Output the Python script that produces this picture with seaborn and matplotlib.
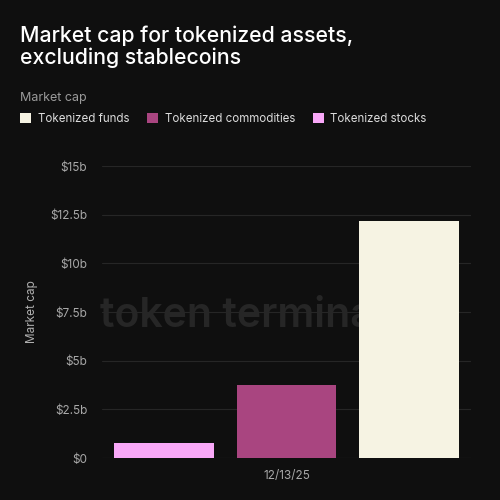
import pandas as pd
import seaborn as sns
import matplotlib.pyplot as plt
from matplotlib.ticker import FuncFormatter

# Data (billions of USD)
dates = ["12/13/25", "12/13/25", "12/13/25"]
categories = ["Tokenized stocks", "Tokenized commodities", "Tokenized funds"]
market_cap_b = [0.78, 3.76, 12.15]
colors = ["#f9a8f8", "#a94580", "#f6f3e3"]
yticks = [0, 2.5, 5, 7.5, 10, 12.5, 15]

df = pd.DataFrame({"date": dates, "category": categories, "market_cap": market_cap_b})

bg = "#0f0f0f"
sns.set_style("dark")
plt.rcParams["font.family"] = ["Inter", "DejaVu Sans"]

fig = plt.figure(figsize=(5, 5), dpi=100, facecolor=bg)
ax = fig.add_axes([0.204, 0.084, 0.738, 0.584], facecolor=bg)

sns.barplot(data=df, x="date", y="market_cap", hue="category",
            hue_order=categories, palette=colors, width=0.856, gap=0.19,
            saturation=1, linewidth=0, ax=ax, zorder=2, legend=True)

# watermark behind the bars
ax.text(-0.005, 0.485, "token terminal_", transform=ax.transAxes,
        fontsize=29.5, fontweight="semibold", color="#262626",
        ha="left", va="center", zorder=0.5)

ax.set_ylim(0, 15)
ax.set_xlim(-0.43, 0.43)
ax.set_yticks(yticks)
ax.yaxis.set_major_formatter(FuncFormatter(
    lambda v, p: "$0" if v == 0 else f"${v:g}b"))
ax.grid(axis="y", color="#262626", linewidth=0.8)
ax.grid(axis="x", visible=False)
ax.set_axisbelow(True)
for s in ax.spines.values():
    s.set_visible(False)
ax.axhline(0, color="#333333", linewidth=0.8, zorder=1)

ax.tick_params(axis="y", length=0, pad=10.5, labelsize=8.5, labelcolor="#a8a8a8")
ax.tick_params(axis="x", length=5, width=0.6, color="#333333", pad=4,
               labelsize=8.5, labelcolor="#a8a8a8")
ax.set_xlabel("")
ax.set_ylabel("Market cap", color="#b0b0b0", fontsize=8.5, labelpad=9)

# legend in reverse order, at the top
handles, labels = ax.get_legend_handles_labels()
ax.get_legend().remove()
for h in handles:
    h.set_linewidth(0)
fig.legend(handles[::-1], labels[::-1], loc="upper left",
           bbox_to_anchor=(0.02, 0.794), ncol=3, frameon=False,
           fontsize=8.3, labelcolor="#dcdcdc", handlelength=0.95,
           handleheight=0.95, handletextpad=0.6, columnspacing=1.5)

fig.text(0.04, 0.798, "Market cap", color="#9a9a9a", fontsize=9)
fig.text(0.04, 0.872, "Market cap for tokenized assets,\nexcluding stablecoins",
         color="white", fontsize=15.3, fontweight="medium", linespacing=1.12)

plt.savefig("out.png", dpi=100, facecolor=bg)
